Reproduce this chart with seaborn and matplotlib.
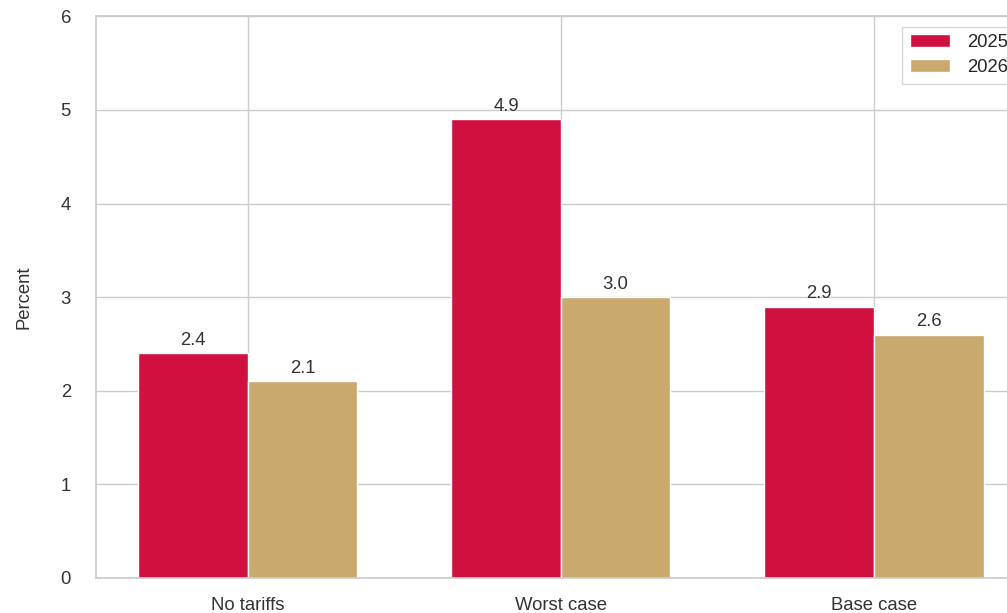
import matplotlib
matplotlib.use("Agg")
import matplotlib.pyplot as plt
import seaborn as sns
import pandas as pd

categories = ["No tariffs", "Worst case", "Base case"]
years = ["2025", "2026"]
values_2025 = [2.4, 4.9, 2.9]
values_2026 = [2.1, 3.0, 2.6]
colors = ["#D0103F", "#C9A96E"]

df = pd.DataFrame({
    "Scenario": categories * 2,
    "Year": [years[0]] * 3 + [years[1]] * 3,
    "Percent": values_2025 + values_2026,
})

sns.set_theme(style="whitegrid")
plt.rcParams["font.family"] = ["Liberation Sans", "DejaVu Sans"]

FS = 13.3
fig = plt.figure(figsize=(10.07, 6.13), dpi=100)
ax = fig.add_axes([0.0953, 0.0571, 0.9232, 0.9162])

sns.barplot(data=df, x="Scenario", y="Percent", hue="Year", palette=colors,
            width=0.7, edgecolor="white", linewidth=1, ax=ax, saturation=1)

for cont in ax.containers:
    ax.bar_label(cont, fmt="%.1f", padding=3, fontsize=FS, color="#333333")

ax.set_xlim(-0.484, 2.484)
ax.set_ylim(0, 6)
ax.set_yticks(range(0, 7))
ax.set_xlabel("")
ax.set_ylabel("Percent", fontsize=FS, color="#333333", labelpad=20)
ax.tick_params(axis="y", pad=12, labelsize=FS, colors="#333333")
ax.tick_params(axis="x", pad=8, labelsize=FS, colors="#333333")
ax.grid(True, color="#cccccc", linewidth=1)
for s in ax.spines.values():
    s.set_color("#cccccc")

leg = ax.legend(loc="upper right", fontsize=FS, title=None, frameon=True,
                handlelength=2.2, handletextpad=0.9, labelspacing=0.45,
                borderaxespad=0.55, fancybox=False)
leg.get_frame().set_edgecolor("#cccccc")

fig.savefig("out.png", dpi=100)
